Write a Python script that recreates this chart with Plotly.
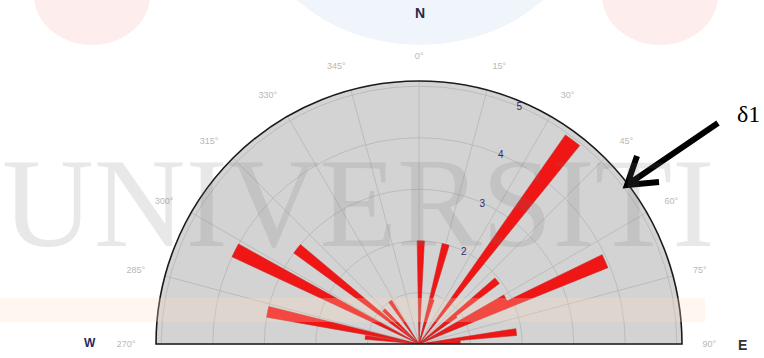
import plotly.graph_objects as go

# Rose diagram data: azimuth of each bin (degrees, clockwise from N) and its count
bin_azimuth = [1, 15, 17, 37, 51, 53, 62, 66, 83, 87, 277, 282, 297, 308, 314, 326]
bin_count = [2.0, 2.0, 0.9, 4.95, 1.95, 0.9, 1.9, 3.95, 1.9, 0.8, 1.05, 3.0, 4.0, 3.0, 0.95, 1.0]
bin_width = 4

# Angular ticks every 15 degrees over the northern half (W -> N -> E)
angle_ticks = [270, 285, 300, 315, 330, 345, 0, 15, 30, 45, 60, 75, 90]
angle_labels = [f"{a}°" for a in angle_ticks]
radial_ticks = [1, 2, 3, 4, 5]
radial_labels = ["", "2", "3", "4", "5"]

W, H = 764, 358


def to_math(az):
    """Compass azimuth (clockwise from N) -> counter-clockwise angle from E."""
    return (90 - az) % 360


def px(x, y):
    """Pixel position -> paper coordinates."""
    return x / W, 1 - y / H


fig = go.Figure()
fig.add_trace(go.Barpolar(
    theta=[to_math(a) for a in bin_azimuth],
    r=bin_count,
    width=[bin_width] * len(bin_azimuth),
    marker=dict(color="#f01616", line=dict(color="#c42a2a", width=0.6)),
    opacity=1,
    hoverinfo="skip",
))

# Faint logo watermark pieces
shapes = []
def circle(cx, cy, rx, ry, color):
    x0, y0 = px(cx - rx, cy + ry)
    x1, y1 = px(cx + rx, cy - ry)
    shapes.append(dict(type="circle", xref="paper", yref="paper",
                       x0=x0, y0=y0, x1=x1, y1=y1,
                       fillcolor=color, line=dict(width=0), layer="below"))

circle(92, -5, 58, 50, "rgba(253,225,225,0.6)")
circle(420, -110, 175, 155, "rgba(228,238,246,0.6)")
circle(660, -5, 58, 50, "rgba(253,225,225,0.6)")

bx0, by0 = px(0, 322)
bx1, by1 = px(705, 298)
shapes.append(dict(type="rect", xref="paper", yref="paper",
                   x0=bx0, y0=by0, x1=bx1, y1=by1,
                   fillcolor="rgba(250,220,190,0.25)", line=dict(width=0),
                   layer="above"))

# Pointer arrow towards the outer boundary
tail = (718, 123)
head = (627, 185)
wing1 = (637, 156)
wing2 = (659, 182)
def path_pt(p):
    x, y = px(*p)
    return f"{x:.5f},{y:.5f}"
shapes.append(dict(type="path", xref="paper", yref="paper",
                   path=(f"M{path_pt(tail)} L{path_pt(head)} "
                         f"M{path_pt(wing1)} L{path_pt(head)} L{path_pt(wing2)}"),
                   line=dict(color="black", width=6), layer="above"))

annotations = []
def label(text, x, y, size, color, family="Liberation Sans"):
    xp, yp = px(x, y)
    annotations.append(dict(text=text, x=xp, y=yp, xref="paper", yref="paper",
                            showarrow=False, xanchor="center", yanchor="middle",
                            font=dict(size=size, color=color, family=family)))

label("UNIVERSITI", 358, 203, 127, "rgba(110,110,110,0.16)", family="Liberation Serif")
label("<b>N</b>", 420, 13, 14, "#2a2a4a")
label("<b>W</b>", 90, 343, 12, "#2a2a5a")
label("<b>E</b>", 742, 345, 14, "#333333")
label("δ1", 748, 114, 24, "black", family="Liberation Serif")

dx0, _ = px(156, 0)
dx1, _ = px(682, 0)
_, ybot = px(0, 344)
_, ytop = px(0, 81)

fig.update_layout(
    width=W, height=H,
    margin=dict(l=0, r=0, t=0, b=0),
    paper_bgcolor="white",
    showlegend=False,
    shapes=shapes,
    annotations=annotations,
    polar=dict(
        domain=dict(x=[dx0, dx1], y=[ybot, ytop]),
        sector=[0, 180],
        bgcolor="#d3d3d3",
        bargap=0,
        angularaxis=dict(
            rotation=0, direction="counterclockwise",
            tickmode="array",
            tickvals=[to_math(a) for a in angle_ticks],
            ticktext=angle_labels,
            showline=True, linecolor="#1a1a1a", linewidth=1.6,
            showgrid=True, gridcolor="#bcbcbc", gridwidth=1,
            ticks="outside", ticklen=18, tickcolor="rgba(0,0,0,0)",
            tickfont=dict(size=9, color="#b8b8b8", family="Liberation Sans"),
        ),
        radialaxis=dict(
            range=[0, 5.1], angle=69,
            tickmode="array", tickvals=radial_ticks, ticktext=radial_labels,
            showline=False, ticks="",
            showgrid=True, gridcolor="#bcbcbc", gridwidth=1,
            tickfont=dict(size=10, color="#2c2c6e", family="Liberation Sans"),
            tickangle=69,
        ),
    ),
)

fig.write_html("out.html")
